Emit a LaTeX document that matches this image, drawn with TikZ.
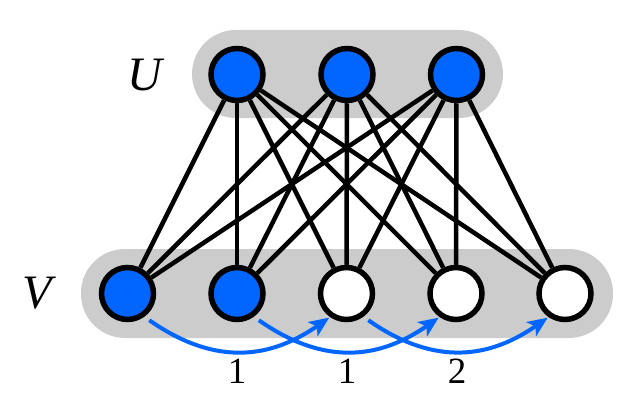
\documentclass[tikz,border=0pt]{standalone}
\usepackage{fontspec}
\setmainfont{Liberation Serif}
\usetikzlibrary{arrows.meta}
\definecolor{nodeblue}{HTML}{0066FF}
\definecolor{bandgray}{HTML}{CCCCCC}
\begin{document}
\begin{tikzpicture}[x=1pt,y=1pt,
  vtx/.style={circle,draw=black,line width=5.5pt,minimum size=52pt,inner sep=0pt},
  filled/.style={vtx,fill=nodeblue},
  empty/.style={vtx,fill=white},
  edge/.style={draw=black,line width=4.5pt},
  band/.style={fill=bandgray,rounded corners=44pt},
  flow/.style={draw=nodeblue,line width=4pt,-{Stealth[length=20pt,width=17pt,inset=5pt]},shorten <=6pt,shorten >=1pt},
  setlabel/.style={font=\fontsize{48}{48}\selectfont\itshape},
  numlabel/.style={font=\fontsize{37}{37}\selectfont}]
\useasboundingbox (0,0) rectangle (634,400);
\fill[band] (192,282) rectangle (503,370);
\fill[band] (81,62) rectangle (613,151);
\node[setlabel] (lu) at (145,324.5) {U};
\node[setlabel] (lv) at (37,107) {V};
\node[filled] (u1) at (237,325.5) {};
\node[filled] (u2) at (347,325.5) {};
\node[filled] (u3) at (456.5,325.5) {};
\node[filled] (v1) at (127.5,106.5) {};
\node[filled] (v2) at (237,106.5) {};
\node[empty] (v3) at (346.5,106.5) {};
\node[empty] (v4) at (456,106.5) {};
\node[empty] (v5) at (565,106.5) {};
\foreach \u in {u1,u2,u3}{
  \foreach \v in {v1,v2,v3,v4,v5}{
    \draw[edge] (\u) -- (\v);
  }
}
\draw[flow] (v1.-54) to[out=-35,in=-145,looseness=1.1] (v3.-125);
\draw[flow] (v2.-54) to[out=-35,in=-145,looseness=1.1] (v4.-125);
\draw[flow] (v3.-54) to[out=-35,in=-145,looseness=1.1] (v5.-125);
\node[numlabel] (n1) at (237,28.5) {1};
\node[numlabel] (n2) at (347,28.5) {1};
\node[numlabel] (n3) at (457,28.5) {2};
\end{tikzpicture}
\end{document}
